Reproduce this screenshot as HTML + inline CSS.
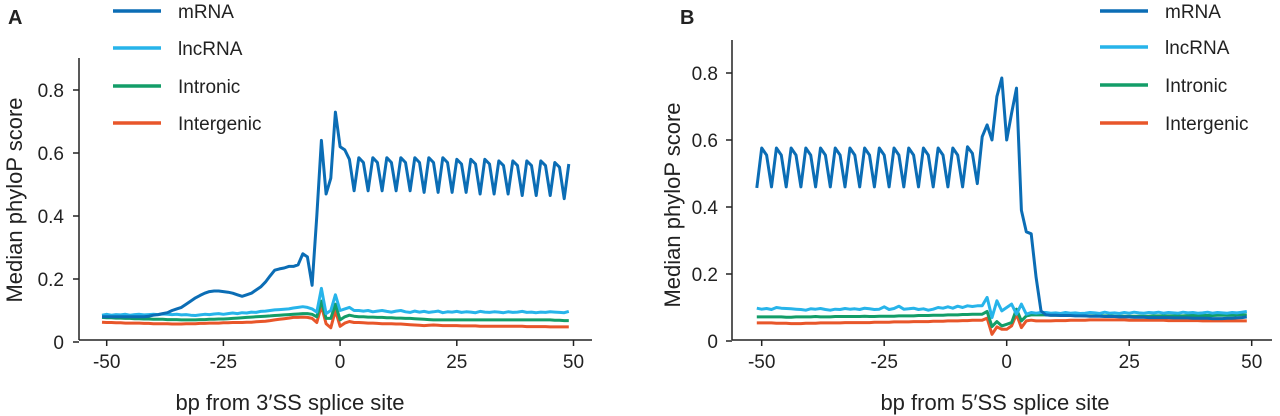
<!DOCTYPE html>
<html><head><meta charset="utf-8"><style>
html,body{margin:0;padding:0;background:#fff;width:1280px;height:416px;overflow:hidden}
svg text{font-family:"Liberation Sans",Arial,sans-serif;fill:#222}
</style></head><body>
<svg id="chart" width="1280" height="416" xmlns="http://www.w3.org/2000/svg"></svg>
<script>
const xTicks=[-50,-25,0,25,50];
const yTicks=[0,0.2,0.4,0.6,0.8];
const yTickLabels=["0","0.2","0.4","0.6","0.8"];
const seriesNames=["mRNA","lncRNA","Intronic","Intergenic"];
const startBp=-51;
const aMRNA=[.08,.08,.08,.08,.08,.08,.08,.08,.08,.08,.082,
.085,.087,.09,.093,.10,.105,.11,.12,.13,.14,.148,.155,.16,.162,.162,.16,.158,.155,.15,.145,.15,.155,.165,.175,.19,.21,.228,.232,.235,.24,.24,.245,
.28,.27,.18,.40,.64,.47,.52,.73,.62,.61,.58,.48,
.585,.57,.48,.585,.57,.48,.585,.57,.48,.585,.57,.48,.585,.57,.475,.585,.57,.475,.585,.57,.475,.58,.565,.475,.58,.565,.47,.58,.565,.47,.575,.56,.47,.575,.56,.465,.575,.56,.465,.575,.56,.465,.57,.555,.455,.565];
const aLnc=[.085,.088,.085,.087,.086,.088,.085,.087,.088,.086,.087,.088,.087,.089,.088,.087,.088,.086,.087,.085,.084,.086,.088,.087,.089,.09,.088,.09,.092,.09,.093,.092,.095,.094,.097,.098,.10,.102,.103,.104,.105,.108,
.11,.112,.11,.105,.095,.17,.09,.10,.15,.10,.105,.11,.10,
.10,.098,.10,.096,.098,.10,.097,.095,.098,.10,.096,.094,.098,.095,.097,.094,.096,.098,.093,.096,.095,.097,.094,.096,.095,.093,.097,.095,.094,.096,.095,.093,.096,.094,.095,.097,.094,.095,.093,.095,.094,.096,.095,.094,.093,.097];
const aIntronic=[.078,.077,.077,.076,.076,.075,.075,.074,.074,.073,.073,.072,.072,.072,.071,.071,.071,.07,.07,.07,.07,.071,.071,.072,.072,.073,.073,.074,.075,.076,.077,.078,.079,.08,.081,.082,.083,.084,.085,.086,.087,.088,
.089,.09,.09,.088,.08,.13,.075,.075,.12,.07,.08,.085,.082,
.08,.08,.079,.079,.078,.078,.077,.077,.076,.076,.075,.075,.074,.073,.072,.071,.07,.07,.07,.07,.07,.07,.07,.07,.07,.07,.07,.07,.07,.07,.07,.07,.07,.07,.07,.07,.07,.07,.07,.07,.07,.07,.069,.069,.068,.068];
const aIntergenic=[.063,.062,.062,.061,.061,.06,.06,.06,.06,.059,.059,.058,.058,.058,.058,.057,.057,.057,.058,.058,.058,.059,.059,.06,.06,.06,.061,.061,.062,.062,.062,.063,.063,.064,.065,.066,.068,.07,.072,.074,.076,.078,
.078,.079,.078,.075,.062,.115,.058,.045,.10,.05,.06,.065,.062,
.062,.061,.06,.06,.059,.058,.058,.058,.057,.057,.056,.055,.054,.053,.052,.053,.054,.053,.052,.052,.052,.052,.051,.051,.051,.051,.05,.05,.05,.05,.05,.05,.05,.05,.05,.05,.049,.049,.049,.049,.049,.048,.048,.048,.048,.048];
const bMRNA=[.457,
.576,.555,.46,.576,.555,.46,.576,.555,.46,.576,.555,.46,.576,.555,.46,.576,.555,.46,.576,.555,.46,.576,.555,.46,.576,.555,.46,.576,.555,.46,.576,.555,.46,.576,.555,.46,.576,.555,.46,.576,.555,.46,.58,.56,.47,
.61,.645,.60,.73,.785,.60,.68,.755,.39,.326,.32,.19,.09,
.078,.077,.077,.076,.076,.076,.075,.075,.075,.074,.074,.074,.073,.073,.073,.072,.072,.072,.071,.071,.071,.07,.07,.07,.07,.07,.069,.069,.069,.069,.068,.068,.068,.068,.067,.067,.067,.068,.068,.069,.07,.072];
const bLnc=[.098,.095,.097,.094,.1,.098,.097,.096,.095,.094,.092,.096,.095,.097,.094,.092,.095,.094,.097,.095,.096,.094,.098,.096,.094,.095,.102,.094,.097,.104,.095,.096,.098,.094,.096,.092,.095,.1,.098,.102,.098,.104,.1,.105,.103,.105,
.105,.13,.07,.12,.09,.10,.11,.08,.11,.08,.085,.083,.085,
.085,.083,.084,.082,.085,.083,.084,.082,.083,.085,.084,.082,.086,.083,.084,.082,.085,.083,.086,.084,.083,.085,.084,.086,.083,.085,.084,.083,.086,.084,.085,.083,.084,.086,.083,.085,.084,.083,.085,.084,.086,.088];
const bIntronic=[.072,.072,.072,.072,.072,.072,.071,.071,.072,.072,.072,.072,.073,.072,.072,.072,.073,.073,.073,.073,.073,.073,.074,.073,.073,.074,.074,.074,.074,.075,.075,.075,.075,.076,.076,.076,.077,.077,.077,.078,.078,.078,.079,.079,.08,.08,
.08,.088,.043,.058,.045,.05,.055,.095,.06,.075,.078,.078,.078,
.078,.077,.077,.077,.076,.076,.076,.076,.075,.075,.075,.075,.075,.075,.074,.074,.074,.074,.074,.074,.074,.074,.075,.075,.075,.075,.075,.075,.075,.076,.076,.076,.076,.076,.076,.077,.077,.077,.077,.078,.078,.078];
const bIntergenic=[.054,.054,.054,.054,.053,.053,.053,.052,.052,.052,.053,.053,.053,.054,.054,.054,.054,.054,.055,.055,.055,.055,.055,.055,.056,.056,.056,.056,.057,.057,.057,.057,.058,.058,.058,.058,.059,.059,.059,.06,.06,.06,.061,.061,.062,.062,
.062,.068,.02,.042,.035,.035,.045,.08,.04,.06,.062,.06,.06,
.06,.06,.061,.061,.061,.062,.062,.062,.062,.063,.063,.063,.063,.063,.063,.063,.063,.062,.062,.062,.062,.062,.062,.062,.062,.061,.061,.061,.061,.061,.061,.061,.06,.06,.06,.06,.06,.06,.06,.06,.06,.06];
const colors=["#0b6db5","#27b4ea","#139d68","#e8562a"];

const NS="http://www.w3.org/2000/svg";
const svg=document.getElementById('chart');
function mk(tag,attrs,parent){const e=document.createElementNS(NS,tag);for(const k in attrs)e.setAttribute(k,attrs[k]);(parent||svg).appendChild(e);return e;}

const panels=[
 {id:"a",letter:"A",lx:8,axX:79,axEnd:592,axY:340,yTop:58,x0px:106.7,x50px:573.5,y0:342,y08:90,ylabX:64,titleX:14,titleY:200,xtitle:"bp from 3′SS splice site",xtitleX:290,legLine:113,legText:178,legY:[11,48,86,123],data:[aMRNA,aLnc,aIntronic,aIntergenic]},
 {id:"b",letter:"B",lx:680,axX:732,axEnd:1272,axY:340,yTop:40,x0px:761.7,x50px:1251.7,y0:341,y08:73,ylabX:718,titleX:672,titleY:205,xtitle:"bp from 5′SS splice site",xtitleX:995,legLine:1100,legText:1165,legY:[11,47,85,123],data:[bMRNA,bLnc,bIntronic,bIntergenic]}
];
panels.forEach(p=>{
 const g=mk('g',{});
 
 
 const sx=v=>p.x0px+(v+50)*(p.x50px-p.x0px)/100;
 const sy=v=>p.y0-v*(p.y0-p.y08)/0.8;
 const L=mk('text',{x:p.lx,y:24,'font-size':20,'font-weight':'bold'},g);L.textContent=p.letter;
 
 
 const ya=mk('line',{x1:p.axX,y1:p.yTop,x2:p.axX,y2:p.axY,stroke:'#222','stroke-width':1.5},g);
 
 
 const xa=mk('line',{x1:p.axX,y1:p.axY,x2:p.axEnd,y2:p.axY,stroke:'#222','stroke-width':1.5},g);
 
 
 yTicks.forEach((t,i)=>{
  mk('line',{x1:p.axX-6,x2:p.axX,y1:sy(t),y2:sy(t),stroke:'#222','stroke-width':1.5},g);
  const tx=mk('text',{x:p.ylabX,y:sy(t)+7,'font-size':19,'text-anchor':'end'},g);tx.textContent=yTickLabels[i];
  
  
 });
 xTicks.forEach(t=>{
  mk('line',{x1:sx(t),x2:sx(t),y1:p.axY,y2:p.axY+6,stroke:'#222','stroke-width':1.5},g);
  const tx=mk('text',{x:sx(t),y:368,'font-size':19,'text-anchor':'middle'},g);tx.textContent=String(t);
  
  
 });
 const yt=mk('text',{x:0,y:0,'font-size':22,'text-anchor':'middle',transform:`translate(${p.titleX+8},${p.titleY}) rotate(-90)`},g);yt.textContent="Median phyloP score";
 
 
 const xt=mk('text',{x:p.xtitleX,y:410,'font-size':22,'text-anchor':'middle'},g);xt.textContent=p.xtitle;
 
 
 for(let s=p.data.length-1;s>=0;s--){
  const arr=p.data[s];
  const pts=arr.map((v,i)=>sx(startBp+i).toFixed(1)+','+sy(v).toFixed(1)).join(' ');
  const pl=mk('polyline',{points:pts,fill:'none',stroke:colors[s],'stroke-width':3,'stroke-linejoin':'round'},g);
  
  
 }
 seriesNames.forEach((n,i)=>{
  const lg=mk('g',{},g);
  
  
  mk('line',{x1:p.legLine,x2:p.legLine+48,y1:p.legY[i],y2:p.legY[i],stroke:colors[i],'stroke-width':3.5},lg);
  const t=mk('text',{x:p.legText,y:p.legY[i]+7,'font-size':19},lg);t.textContent=n;
 });
});
</script>
</body></html>
